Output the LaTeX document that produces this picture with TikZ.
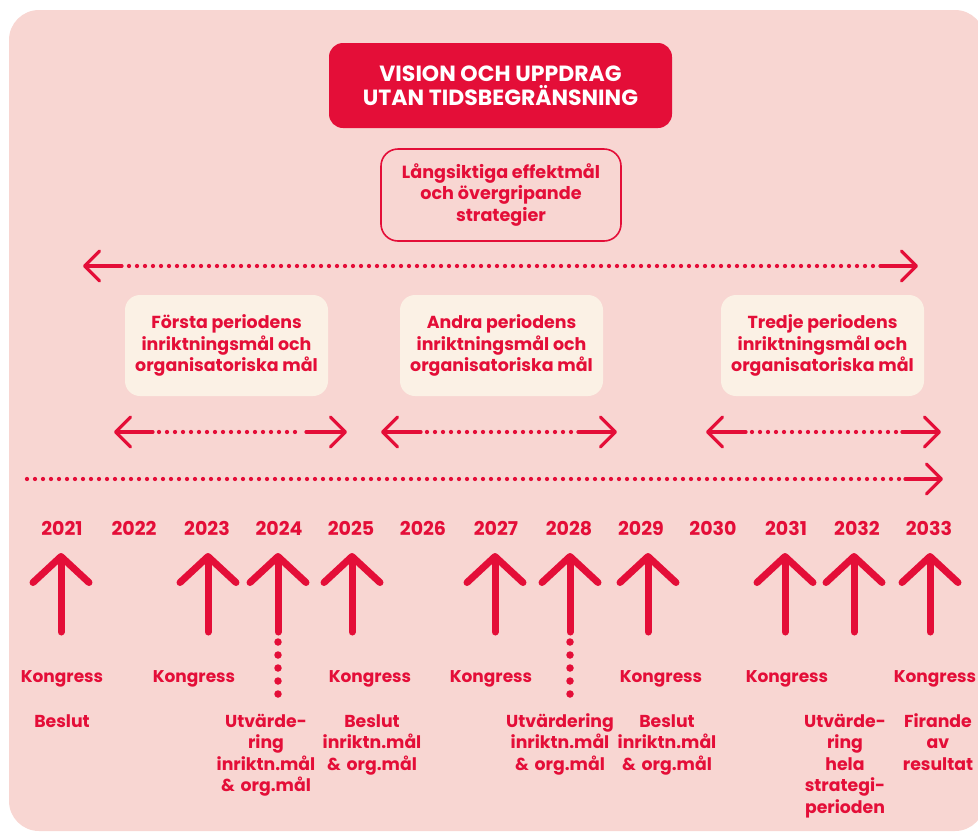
\documentclass[tikz,border=0pt]{standalone}
\usepackage{fontspec}
\setmainfont{Poppins}
\usetikzlibrary{arrows.meta,calc}
\definecolor{kred}{RGB}{228,14,56}
\definecolor{kpink}{RGB}{248,214,210}
\definecolor{kcream}{RGB}{251,241,229}
\tikzset{
  hsolid/.style={draw=kred, line width=3.2pt, line cap=round},
  hdots/.style={draw=kred, line width=4.3pt, line cap=round, dash pattern=on 0pt off 8pt},
  htip/.style={hsolid, -{Straight Barb[length=15pt,width=30pt,round]}},
  uparrow/.style={draw=kred, line width=7pt, line cap=round, -{Straight Barb[length=26pt,width=56pt,round]}},
  vdots/.style={draw=kred, line width=7.5pt, line cap=round, dash pattern=on 0pt off 13pt},
  yearlbl/.style={text=kred, font=\bfseries\fontsize{19}{20}\selectfont, anchor=base, inner sep=0pt},
  kongr/.style={text=kred, font=\bfseries\fontsize{17}{20}\selectfont, anchor=base, inner sep=0pt},
  evlbl/.style={text=kred, font=\bfseries\fontsize{17.3}{21.5}\selectfont, anchor=base, inner sep=0pt, text width=130pt, align=center},
  titlebox/.style={fill=kred, text=white, rounded corners=14pt, minimum width=343pt, minimum height=85pt, align=center, inner sep=0pt, font=\bfseries\fontsize{22}{24}\selectfont},
  goalbox/.style={draw=kred, line width=1.6pt, text=kred, rounded corners=17pt, minimum width=240pt, minimum height=92pt, align=center, inner sep=0pt, font=\bfseries\fontsize{17.6}{21.5}\selectfont},
  periodbox/.style={fill=kcream, text=kred, rounded corners=15pt, minimum width=203pt, minimum height=101pt, align=center, inner sep=0pt, font=\bfseries\fontsize{17.4}{21.5}\selectfont},
}
\begin{document}
\begin{tikzpicture}[x=1pt,y=-1pt]
\useasboundingbox (0,0) rectangle (978,831);
\fill[kpink, rounded corners=30pt] (9,10) rectangle (985,831);

% top boxes
\node[titlebox] (vision) at (500.5,85.5) {VISION OCH UPPDRAG\\UTAN TIDSBEGRÄNSNING};
\node[goalbox] (goal) at (501,195) {Långsiktiga effektmål\\och övergripande\\strategier};

% long arrow
\coordinate (gL) at (83,266); \coordinate (gL1) at (122,266);
\coordinate (gD1) at (129,266); \coordinate (gD2) at (875,266);
\coordinate (gR1) at (880,266); \coordinate (gR) at (918,266);
\draw[htip] (gL1) -- (gL);
\draw[hdots] (gD1) -- (gD2);
\draw[htip] (gR1) -- (gR);

% period boxes
\node[periodbox] (p1) at (226.5,345.5) {Första periodens\\inriktningsmål och\\organisatoriska mål};
\node[periodbox] (p2) at (501.5,345.5) {Andra periodens\\inriktningsmål och\\organisatoriska mål};
\node[periodbox] (p3) at (822.5,345.5) {Tredje periodens\\inriktningsmål och\\organisatoriska mål};

% period arrows
\foreach \n/\a/\b/\c/\d in {1/114/153/306/347, 2/381/421/578/617, 3/706/746/902/941}{
  \coordinate (s\n L) at (\a,432);
  \coordinate (s\n L1) at (\b,432);
  \coordinate (s\n R1) at (\c,432);
  \coordinate (s\n R) at (\d,432);
  \draw[htip] (s\n L1) -- (s\n L);
  \draw[hdots] ($(s\n L1)+(6,0)$) -- ($(s\n R1)+(-4,0)$);
  \draw[htip] (s\n R1) -- (s\n R);
}

% timeline
\coordinate (tS) at (27,479); \coordinate (tD) at (901,479);
\coordinate (tR1) at (905,479); \coordinate (tR) at (943,479);
\draw[hdots] (tS) -- (tD);
\draw[htip] (tR1) -- (tR);

% years
\foreach \y/\x in {2021/62,2022/134,2023/207,2024/279,2025/351,2026/423,2027/496,2028/569,2029/641,2030/713,2031/786,2032/857,2033/929}{
  \node[yearlbl] (y\y) at (\x,535) {\y};
}

% up arrows
\foreach \y/\x in {2021/61,2023/208,2024/278,2025/352,2027/495,2028/570,2029/648,2031/785,2032/854,2033/930}{
  \coordinate (b\y) at (\x,632);
  \coordinate (t\y) at (\x,553);
  \draw[uparrow] (b\y) -- (t\y);
}
\draw[vdots] (278,642) coordinate (d2024a) -- (278,695) coordinate (d2024b);
\draw[vdots] (570,642) coordinate (d2028a) -- (570,695) coordinate (d2028b);

% Kongress labels
\foreach \n/\x in {2021/62,2023/194,2025/370,2027/491,2029/661,2031/787,2033/935}{
  \node[kongr] (k\n) at (\x,682) {Kongress};
}

% event labels
\node[evlbl] (e2021) at (62,727) {Beslut};
\node[evlbl] (e2024) at (266,727) {Utvärde-\\ring\\inriktn.mål\\\& org.mål};
\node[evlbl] (e2025) at (372,727) {Beslut\\inriktn.mål\\\& org.mål};
\node[evlbl] (e2028) at (560,727) {Utvärdering\\inriktn.mål\\\& org.mål};
\node[evlbl] (e2029) at (667,727) {Beslut\\inriktn.mål\\\& org.mål};
\node[evlbl] (e2032) at (845,727) {Utvärde-\\ring\\hela\\strategi-\\perioden};
\node[evlbl] (e2033) at (938,727) {Firande\\av\\resultat};
\end{tikzpicture}
\end{document}
